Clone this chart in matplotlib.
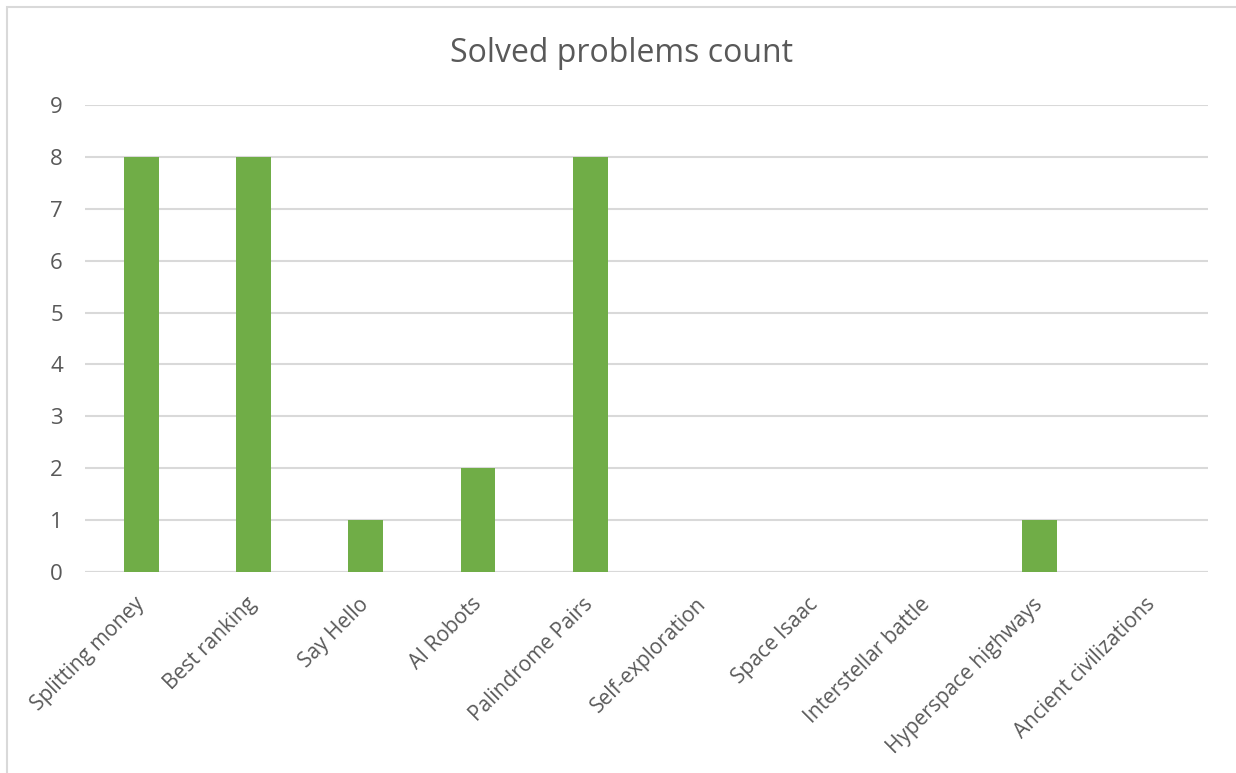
import matplotlib
matplotlib.use("Agg")
import matplotlib.pyplot as plt
from matplotlib.patches import Rectangle

categories = ["Splitting money", "Best ranking", "Say Hello", "AI Robots", "Palindrome Pairs",
              "Self-exploration", "Space Isaac", "Interstellar battle", "Hyperspace highways",
              "Ancient civilizations"]
values = [8, 8, 1, 2, 8, 0, 0, 0, 1, 0]
yticks = list(range(0, 10))
title = "Solved problems count"

plt.rcParams['font.family'] = ['Open Sans', 'DejaVu Sans']
W, H = 1236, 773
fig = plt.figure(figsize=(W/100, H/100), dpi=100)
fig.patch.set_facecolor('white')

# outer chart border (light gray)
fig.add_artist(Rectangle((6.5/W, -0.01), 1.2, 1 - 6.5/H + 0.01, transform=fig.transFigure,
                         fill=False, edgecolor='#d9d9d9', linewidth=1.5))

ax = fig.add_axes([85/W, 1 - 572/H, (1208-85)/W, (572-105)/H])
x = list(range(len(categories)))
ax.bar(x, values, width=0.31, color='#70ad47', zorder=3)
ax.set_xlim(-0.5, len(categories) - 0.5)
ax.set_ylim(0, 9)
ax.set_yticks(yticks)
ax.set_yticklabels([str(t) for t in yticks], fontsize=16, color='#595959')
ax.set_xticks(x)
ax.set_xticklabels(categories, rotation=45, ha='right', va='center',
                   rotation_mode='anchor', fontsize=15, color='#595959')
ax.tick_params(axis='both', length=0)
ax.tick_params(axis='y', pad=16)
ax.tick_params(axis='x', pad=21)
ax.grid(axis='y', color='#d9d9d9', linewidth=1.5, zorder=0)
for s in ax.spines.values():
    s.set_visible(False)
ax.axhline(0, color='#d9d9d9', linewidth=1.5, zorder=2)

fig.text(622/W, 1 - 62/H, title, ha='center', va='baseline', fontsize=23, color='#595959')

fig.savefig("out.png", dpi=100, facecolor='white')
